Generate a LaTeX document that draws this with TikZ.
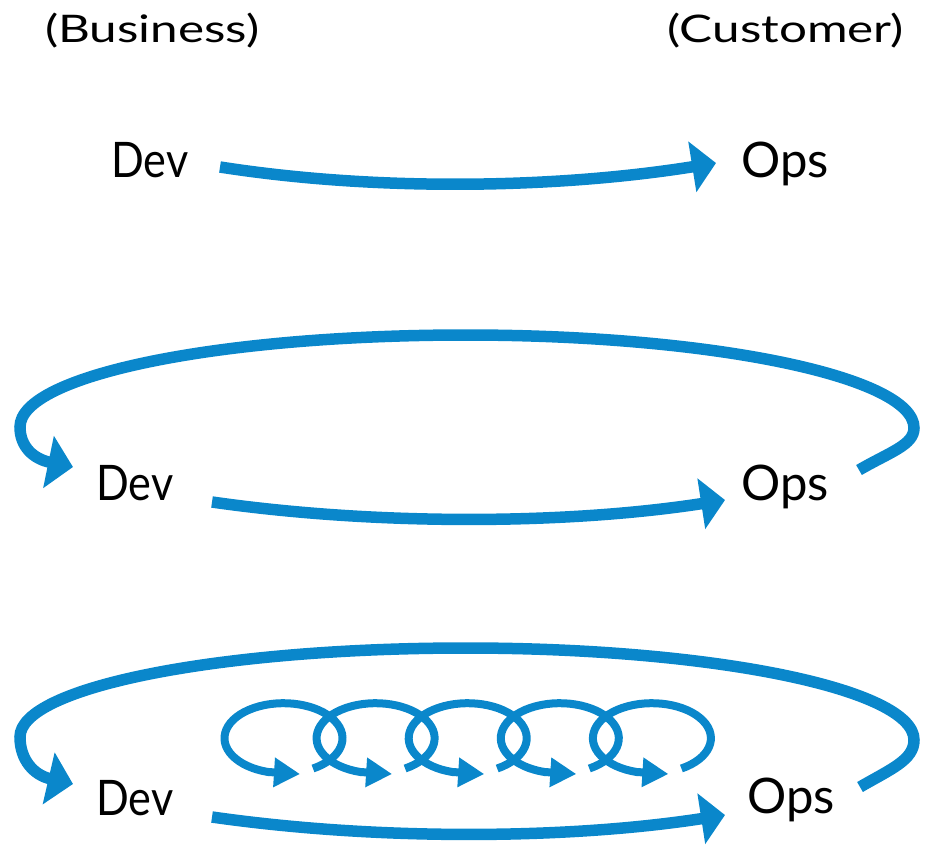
\documentclass[tikz,border=0pt]{standalone}
\usepackage{fontspec}
\setmainfont{Lato}
\usetikzlibrary{arrows.meta}
\definecolor{flowblue}{RGB}{10,135,203}
\newcommand{\devtxt}{\scalebox{0.88}[1]{Dev}}
\newcommand{\opstxt}{\scalebox{1.0}[1]{Ops}}
\tikzset{
  lbl/.style={inner sep=0pt, anchor=base west, font=\fontsize{49}{52}\selectfont},
  hdr/.style={inner sep=0pt, font=\fontsize{38}{40}\selectfont},
  bigflow/.style={draw=flowblue, line width=11.5pt, -{Triangle[length=24pt,width=50pt]}},
  bigloop/.style={draw=flowblue, line width=11.5pt, -{Triangle[length=25pt,width=52pt]}},
  smallloop/.style={draw=flowblue, line width=8pt, -{Triangle[length=26pt,width=28pt]}}
}
\begin{document}
\begin{tikzpicture}[x=1pt,y=-1pt]
\useasboundingbox (0,0) rectangle (936,855);
% headers
\node[hdr, anchor=base west] (biz) at (45,42) {\scalebox{1.3}[1]{(Business)}};
\node[hdr, anchor=base east] (cust) at (904,42) {\scalebox{1.3}[1]{(Customer)}};
% row 1
\node[lbl] (dev1) at (111,177) {\devtxt};
\node[lbl] (ops1) at (741,177) {\opstxt};
\coordinate (a1s) at (220,167);
\coordinate (a1e) at (716,163);
\draw[bigflow] (a1s) .. controls (380,192) and (560,188) .. (a1e);
% row 2
\node[lbl] (dev2) at (96,500) {\devtxt};
\node[lbl] (ops2) at (741,500) {\opstxt};
\coordinate (a2s) at (212,502);
\coordinate (a2e) at (725,500);
\draw[bigflow] (a2s) .. controls (380,526) and (570,524) .. (a2e);
\coordinate (l2s) at (859,470);
\coordinate (l2e) at (73,467);
\draw[bigloop] (l2s) .. controls (890,452) and (914,445) .. (914,428)
  .. controls (914,377) and (713,335) .. (466,335)
  .. controls (220,335) and (20,375) .. (20,427)
  .. controls (20,447) and (34,459) .. (l2e);
% row 3
\node[lbl] (dev3) at (96,815) {\devtxt};
\node[lbl] (ops3) at (747,813) {\opstxt};
\coordinate (a3s) at (212,817);
\coordinate (a3e) at (725,815);
\draw[bigflow] (a3s) .. controls (380,841) and (570,839) .. (a3e);
\coordinate (l3s) at (860,787);
\coordinate (l3e) at (73,784);
\draw[bigloop] (l3s) .. controls (891,769) and (914,760) .. (914,740)
  .. controls (914,689) and (713,648) .. (466,648)
  .. controls (220,648) and (20,687) .. (20,737)
  .. controls (20,760) and (34,775) .. (l3e);
% small loops
\foreach \k in {0,...,4}{
  \pgfmathsetmacro{\cx}{283+92.1*\k}
  \coordinate (s\k) at ({\cx+30},768.5);
  \coordinate (e\k) at ({\cx+17},774);
  \draw[smallloop] (s\k) arc[start angle=60, end angle=-255, x radius=59, y radius=35] -- (e\k);
}
\end{tikzpicture}
\end{document}
